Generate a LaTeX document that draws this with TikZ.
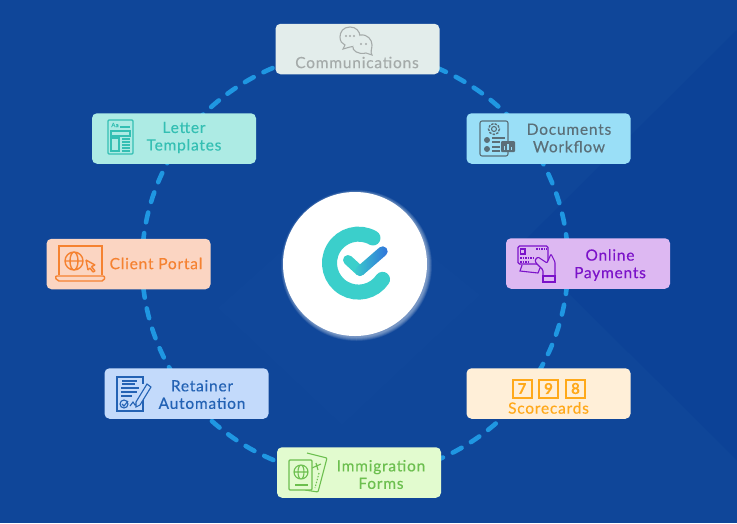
\documentclass[tikz,border=0pt]{standalone}
\usepackage{fontspec}
\setmainfont[LetterSpace=5,FakeBold=0.25]{Lato}
\usetikzlibrary{calc}

\definecolor{pagebg}{HTML}{0F4699}
\definecolor{pagelight}{HTML}{10479A}
\definecolor{pagedark}{HTML}{0C4297}
\definecolor{ringblue}{HTML}{1F97E2}
\definecolor{logoteal}{HTML}{3BCFCB}
\definecolor{logoblue}{HTML}{2F6FDC}
\definecolor{commfill}{HTML}{E3EDEB}
\definecolor{commink}{HTML}{A5ABAA}
\definecolor{docsfill}{HTML}{9ADFF7}
\definecolor{docsink}{HTML}{5B6F78}
\definecolor{payfill}{HTML}{DDB8F2}
\definecolor{payink}{HTML}{7B12C9}
\definecolor{scorefill}{HTML}{FFEFD8}
\definecolor{scoreink}{HTML}{FFA91A}
\definecolor{formfill}{HTML}{E2FBCF}
\definecolor{formink}{HTML}{6CBF4F}
\definecolor{retainfill}{HTML}{C3DAFB}
\definecolor{retainink}{HTML}{2362B4}
\definecolor{portalfill}{HTML}{FBD5C2}
\definecolor{portalink}{HTML}{F58231}
\definecolor{letterfill}{HTML}{ADEBE4}
\definecolor{letterink}{HTML}{34BFB3}

\tikzset{
	cardbox/.style = {minimum width = 164pt, minimum height = 50.5pt, rounded
		corners = 5pt, inner sep = 0pt},
	cardtext/.style = {align = center, font = \fontsize{15.5}{17.5}\selectfont,
		inner sep = 0pt},
	ringline/.style = {draw = ringblue, line width = 4.6pt, line cap = round,
		dash pattern = on 10pt off 11pt, looseness = 0.88},
	iconline/.style = {line width = 1.1pt},
	digitbox/.style = {draw = scoreink, line width = 2pt, minimum width = 19pt,
		minimum height = 18pt, inner sep = 0pt, text = scoreink,
		font = \fontsize{15}{15}\selectfont\bfseries}
}

\begin{document}
\begin{tikzpicture}[x = 1pt, y = -1pt]
\useasboundingbox (0,0) rectangle (737,523);
\fill [pagebg] (0,0) rectangle (737,523);

% faint shapes behind everything
\fill [pagedark] (737,30) -- (520,245) -- (737,460) -- cycle;
\fill [pagelight] (218,308) -- (342,425) -- (480,295) -- (350,190) -- cycle;

% points of the ring, hidden behind the cards
\coordinate (commring) at (355,51);
\coordinate (docsring) at (527,138);
\coordinate (payring) at (568,263);
\coordinate (scorering) at (524.5,393);
\coordinate (formring) at (355,477);
\coordinate (retainring) at (186,393);
\coordinate (portalring) at (142,264);
\coordinate (letterring) at (183,138);

\draw [ringline] (commring) to [bend left = 26.9] (docsring);
\draw [ringline] (docsring) to [bend left = 18.1] (payring);
\draw [ringline] (payring) to [bend left = 18.7] (scorering);
\draw [ringline] (scorering) to [bend left = 26.3] (formring);
\draw [ringline] (formring) to [bend left = 26.3] (retainring);
\draw [ringline] (retainring) to [bend left = 18.7] (portalring);
\draw [ringline] (portalring) to [bend left = 18.1] (letterring);
\draw [ringline] (letterring) to [bend left = 26.9] (commring);

\node [cardbox, fill = commfill] (comm) at (357.5,49) {};
\node [cardbox, fill = docsfill] (docs) at (548.5,138.5) {};
\node [cardbox, fill = payfill] (pay) at (588,263.5) {};
\node [cardbox, fill = scorefill] (score) at (548.5,393.5) {};
\node [cardbox, fill = formfill] (form) at (359,472.5) {};
\node [cardbox, fill = retainfill] (retain) at (186.5,393.5) {};
\node [cardbox, fill = portalfill] (portal) at (128.5,264) {};
\node [cardbox, fill = letterfill] (letter) at (174,138.5) {};

\node [cardtext, text = commink] (commtext) at (357,62.5) {Communications};
\node [cardtext, text = docsink] (docstext) at (569,138) {Documents\\Workflow};
\node [cardtext, text = payink] (paytext) at (610,265) {Online\\Payments};
\node [cardtext, text = scoreink] (scoretext) at (548.5,408) {Scorecards};
\node [cardtext, text = formink] (formtext) at (381,474.5) {Immigration\\Forms};
\node [cardtext, text = retainink] (retaintext) at (202,394.5) {Retainer\\Automation};
\node [cardtext, text = portalink] (portaltext) at (156,263.5) {Client Portal};
\node [cardtext, text = letterink] (lettertext) at (184,137.5) {Letter\\Templates};

\node [digitbox] (digita) at (522,388.5) {7};
\node [digitbox] (digitb) at (548.5,388.5) {9};
\node [digitbox] (digitc) at (575.5,388.5) {8};

% communications icon
\begin{scope}[iconline, draw = commink]
\draw (350,27) .. controls (343,27) and (340,32) .. (340,37) .. controls (340,41) and (342,44) .. (345,45) -- (343,49) -- (350,47) .. controls (356,47) and (360,43) .. (360,37) .. controls (360,31) and (356,27) .. (350,27);
\draw [fill = commfill] (360,35) .. controls (368,34) and (372,40) .. (372,45) .. controls (372,49) and (370,52) .. (372,55) -- (366,53) .. controls (358,55) and (352,50) .. (353,47);
\fill [commink] (346,36) circle (1.1) (350,36) circle (1.1) (354,36) circle (1.1) (361,44) circle (1.1) (366,44) circle (1.1);
\end{scope}

% documents icon
\begin{scope}[iconline, draw = docsink]
\draw [rounded corners = 2pt] (480,121) rectangle (508,156);
\draw (494,129) circle (2.5);
\draw [dash pattern = on 2.5pt off 1.2pt, line width = 1.4pt] (494,129) circle (5.5);
\fill [docsink] (487,140) circle (3) (487,149) circle (3);
\draw (492,138) -- (505,138) (492,142) -- (500,142) (492,147) -- (500,147) (492,151) -- (500,151);
\fill [docsink, rounded corners = 1pt] (501,141) rectangle (515,152);
\draw [docsfill] (504.5,150) -- (504.5,146) (508,150) -- (508,143.5) (511.5,150) -- (511.5,147);
\end{scope}

% payments icon
\begin{scope}[iconline, draw = payink]
\draw [rounded corners = 1.5pt] (518,246) rectangle (548,264);
\draw (520.5,249) rectangle (525,254);
\draw [dash pattern = on 1.5pt off 1pt] (536,249) -- (547,249) (520,258) -- (535,258) (520,262) -- (528,262);
\draw [fill = payfill] (522,265) -- (520,271) -- (538,273) -- (540,268);
\draw [fill = payfill, rounded corners = 1pt] (543,276) -- (543,270) -- (536,263) -- (535,260) -- (538,257) -- (547,263) -- (551,254) -- (555,262) -- (555,276);
\draw (543,276) rectangle (555,282);
\end{scope}

% immigration icon
\begin{scope}[iconline, draw = formink]
\draw [fill = formfill, rounded corners = 1pt] (307,453) -- (327,458) -- (318,492) -- (305,490);
\draw (316,463) -- (318,470) (312,468) -- (321,464);
\draw [dash pattern = on 1.5pt off 1.5pt] (319,473) -- (315,488);
\draw [fill = formfill, rounded corners = 1pt] (289,460) rectangle (312,490);
\draw (301,472) circle (7) (301,472) ellipse (3 and 7) (294,472) -- (308,472);
\draw (295,485) -- (308,485);
\end{scope}

% retainer icon
\begin{scope}[iconline, draw = retainink]
\draw (143,392) -- (143,411) -- (117,411) -- (117,377) -- (143,377) -- (143,384);
\draw [line width = 1.6pt] (122,381) -- (137,381) (122,384) -- (135,384);
\draw (121,388) -- (139,388) (121,392) -- (137,392) (121,396) -- (132,396);
\draw (124,404) circle (4);
\draw (122,404) -- (124,406) -- (128,401);
\draw (130,406) -- (133,402) -- (135,405) -- (138,403);
\draw [fill = retainfill] (147,384) -- (151,387) -- (140,405) -- (136,407) -- (136,402) -- cycle;
\end{scope}

% portal icon
\begin{scope}[draw = portalink, line width = 1.4pt]
\draw (59,275) -- (59,246) -- (102,246) -- (102,275);
\draw [rounded corners = 2pt] (55,276) -- (105,276) -- (104,281) -- (57,281) -- cycle;
\draw (74,261) circle (9) (74,261) ellipse (4 and 9) (65,261) -- (83,261);
\draw [rounded corners = 0.5pt] (86,260) -- (95,265) -- (91.5,266.5) -- (95,271) -- (93,272) -- (90,268) -- (88,270) -- cycle;
\end{scope}

% letter icon
\begin{scope}[iconline, draw = letterink]
\draw [rounded corners = 1pt] (108,120) rectangle (133,154);
\node [text = letterink, font = \fontsize{6}{6}\selectfont, inner sep = 0pt] (lettermark) at (115,125) {Aa};
\draw (120,127) -- (130,127);
\draw (111,131) rectangle (130,136);
\draw (111,138) rectangle (119,151);
\draw (122,139) -- (130,139) (122,142) -- (130,142) (122,145) -- (130,145) (122,148) -- (130,148) (122,151) -- (130,151);
\end{scope}

% glow round the middle disc
\foreach \glow in {75.5,75,...,72}
	\fill [white, opacity = 0.07] (356.5,265.5) circle (\glow);
\node [circle, fill = white, minimum size = 144pt, inner sep = 0pt] (hub) at (355,264) {};

% logo
\draw [logoteal, line width = 15pt, line cap = round] (373,238) arc [start angle = -60, end angle = -326, radius = 29];
\draw [logoteal, line width = 10pt, line cap = round, line join = round] (348,260) -- (360,271);
\begin{scope}[shift = {(360,271)}, rotate = 41]
\shade [left color = logoteal, right color = logoblue, rounded corners = 4.9pt] (-5,-5) rectangle (35,5);
\end{scope}
\end{tikzpicture}
\end{document}
